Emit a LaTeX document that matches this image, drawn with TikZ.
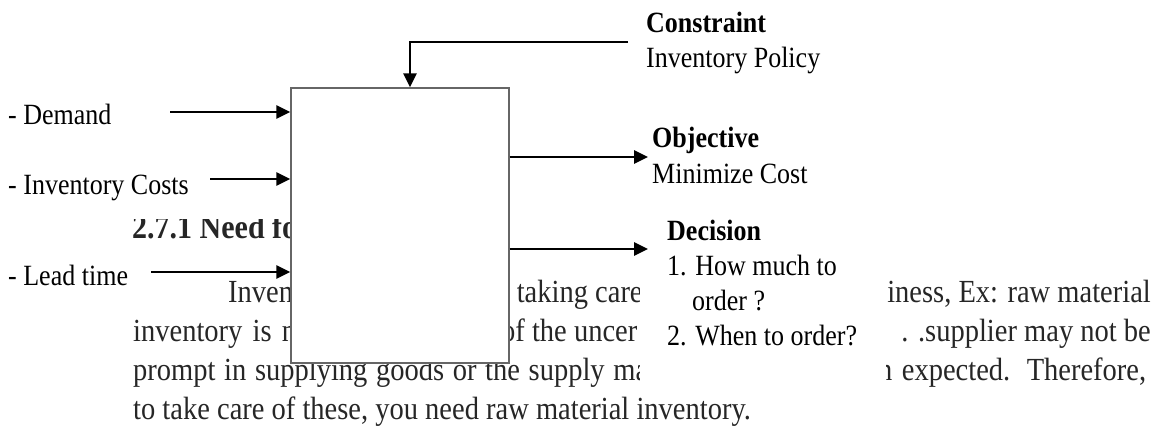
\documentclass[tikz,border=0pt]{standalone}
\usepackage{fontspec}
\setmainfont{Liberation Serif}
\usetikzlibrary{arrows.meta}
\tikzset{
    lbl/.style={anchor=base west, inner sep=0pt, font=\fontsize{26}{30}\selectfont},
    lblb/.style={lbl, font=\fontsize{26}{30}\selectfont\bfseries},
    para/.style={anchor=base west, inner sep=0pt, text=black!85, font=\fontsize{28.5}{34}\selectfont},
    arr/.style={line width=2.8pt, -{Triangle[length=14pt,width=13pt]}},
}
\newcommand{\tall}[1]{\scalebox{1}[1.13]{#1}}
\newcommand{\spread}[2]{\makebox[#1pt][s]{#2}}

\begin{document}
\begin{tikzpicture}[x=1pt, y=-1pt]
            \useasboundingbox (0,0) rectangle (1154,436);
            % page text behind the figure
            \node[para, font=\fontsize{30}{34}\selectfont\bfseries] (sec) at (132,238) {\tall{2.7.1 Need fo}};
            \node[para] (p1a) at (228,302) {\tall{Inven}};
            \node[para] (p1b) at (500,302) {\tall{r taking care}};
            \node[para, anchor=base east] (p1c) at (1151,302) {\tall{iness, Ex: raw material}};
            \node[para] (p2a) at (133,341) {\tall{\spread{163}{inventory is n}}};
            \node[para] (p2b) at (501,341) {\tall{of the uncer}};
            \node[para, anchor=base east] (p2c) at (1151,341) {\tall{. .supplier may not be}};
            \node[para] (p3a) at (133,380) {\tall{\spread{515}{prompt in supplying goods or the supply ma}}};
            \node[para] (p3b) at (878,380) {\tall{\spread{268}{n expected. Therefore,}}};
            \node[para] (p4) at (133,419) {\tall{to take care of these, you need raw material inventory.}};
            \fill[white] (120,190) rectangle (291,219);
            % the system
            \node[draw=gray!80!black, line width=1.2pt, fill=white, inner sep=0pt,
                  minimum width=218pt, minimum height=275pt] (sys) at (400,225.5) {};
            \fill[white] (640,215) rectangle (886,392);
            % inputs
            \node[lbl] (dem) at (8,124) {\tall{- Demand}};
            \node[lbl] (cost) at (8,194) {\tall{- Inventory Costs}};
            \node[lbl] (lead) at (8,285) {\tall{- Lead time}};
            \coordinate (demA) at (170,112);
            \coordinate (costA) at (210,179);
            \coordinate (leadA) at (151,272);
            \foreach \c in {demA, costA, leadA}
                \draw[arr] (\c) -- (\c -| sys.west);
            % constraint
            \node[lblb] (con) at (646,33) {\tall{Constraint}};
            \node[lbl] (pol) at (646,68) {\tall{Inventory Policy}};
            \coordinate (conA) at (628,42);
            \draw[arr] (conA) -| ([xshift=10pt]sys.north);
            % outputs
            \node[lblb] (obj) at (652,147) {\tall{Objective}};
            \node[lbl] (min) at (652,183) {\tall{Minimize Cost}};
            \node[lblb] (dec) at (667,240) {\tall{Decision}};
            \node[lbl] (dec1) at (667,275) {\tall{1. How much to}};
            \node[lbl] (dec1b) at (692,310) {\tall{order ?}};
            \node[lbl] (dec2) at (667,345) {\tall{2. When to order?}};
            \coordinate (objA) at (648,157);
            \coordinate (decA) at (648,249);
            \draw[arr] (objA -| sys.east) -- (objA);
            \draw[arr] (decA -| sys.east) -- (decA);
        \end{tikzpicture}
\end{document}
